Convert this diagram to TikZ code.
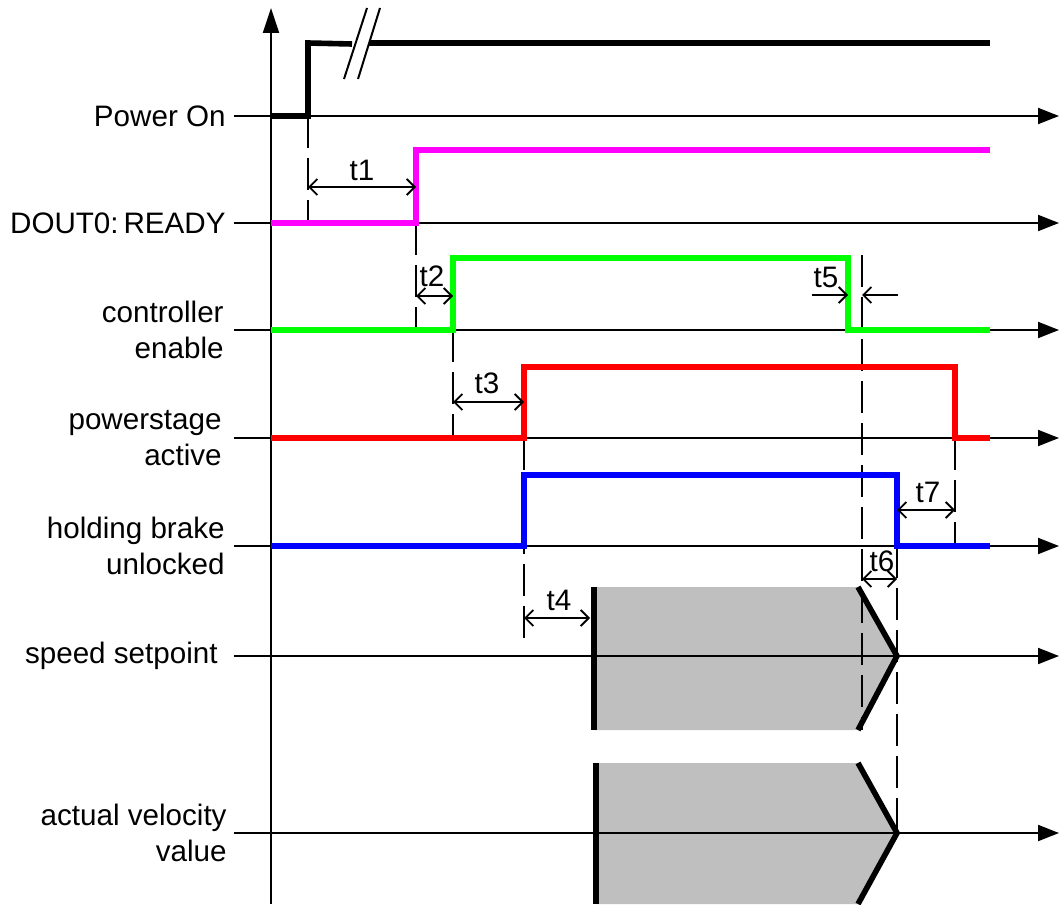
\documentclass[tikz,border=0pt]{standalone}
\usepackage{fontspec}
\setmainfont{Liberation Sans}
\usetikzlibrary{arrows.meta}
\definecolor{sigmagenta}{RGB}{255,0,255}
\definecolor{siggreen}{RGB}{0,255,0}
\definecolor{sigred}{RGB}{255,0,0}
\definecolor{sigblue}{RGB}{0,0,255}

\begin{document}
\begin{tikzpicture}[
    x=0.5pt, y=-0.5pt,
    axis/.style={line width=1pt, -{Triangle[length=10.5pt,width=8pt]}},
    sig/.style={line width=2.8pt, line join=miter},
    guide/.style={line width=1pt, dash pattern=on 16pt off 5pt},
    dim/.style={line width=0.9pt, {Straight Barb[length=4pt,width=8pt]}-{Straight Barb[length=4pt,width=8pt]}},
    dimin/.style={line width=0.9pt, -{Straight Barb[length=4pt,width=8pt]}},
    lbl/.style={anchor=east, align=right, inner sep=0pt, font=\fontsize{14.8}{18}\selectfont},
    tlbl/.style={font=\fontsize{14.8}{18}\selectfont, inner sep=0pt}
]
    \useasboundingbox (0,0) rectangle (1059,904);

    % Grey areas of setpoint and actual value
    \fill[black!25] (594,587) -- (858,587) -- (897,656) -- (858,730) -- (594,730) -- cycle;
    \fill[black!25] (596,763) -- (858,763) -- (897,833) -- (858,904) -- (596,904) -- cycle;

    % Time axis (vertical) and signal axes
    \draw[line width=1pt, -{Triangle[length=12.5pt,width=8pt]}] (271,904) -- (271,8);
    \draw[axis] (234,116) -- (1059,116);
    \draw[axis] (234,223) -- (1059,223);
    \draw[axis] (234,330) -- (1059,330);
    \draw[axis] (234,438) -- (1059,438);
    \draw[axis] (234,546) -- (1059,546);
    \draw[axis] (234,656) -- (1059,656);
    \draw[axis] (234,833) -- (1059,833);

    % Signal names
    \node[lbl] (pwr)  at (226,116) {Power On};
    \node[lbl] (rdy)  at (226,223) {DOUT0:\,READY};
    \node[lbl] (ctrl) at (224,330) {controller\\enable};
    \node[lbl] (pst)  at (222,438) {powerstage\\active};
    \node[lbl] (brk)  at (225,546) {holding brake\\unlocked};
    \node[lbl] (spd)  at (218,656) {speed setpoint};
    \node[lbl] (vel)  at (227,833) {actual velocity\\value};

    % Dashed guide lines
    \draw[guide] (308,116) -- (308,223);
    \draw[guide] (416,223) -- (416,330);
    \draw[guide] (453,330) -- (453,438);
    \draw[guide] (524,438) -- (524,646);
    \draw[guide] (862,255) -- (862,730);
    \draw[guide] (897,546) -- (897,833);
    \draw[guide] (955,438) -- (955,546);

    % Power On (with break mark)
    \draw[sig] (271,116) -- (308,116) -- (308,43) -- (352,44);
    \draw[sig] (369,43) -- (990,43);
    \draw[line width=1pt] (344,79) -- (367,8);
    \draw[line width=1pt] (358,79) -- (380,8);

    % DOUT0: READY
    \draw[sig, sigmagenta] (271,223) -- (416,223) -- (416,150) -- (990,150);

    % controller enable
    \draw[sig, siggreen] (271,330) -- (453,330) -- (453,258) -- (848,258) -- (848,330) -- (990,330);

    % powerstage active
    \draw[sig, sigred] (271,438) -- (524,438) -- (524,367) -- (955,367) -- (955,438) -- (990,438);

    % holding brake unlocked
    \draw[sig, sigblue] (271,546) -- (524,546) -- (524,475) -- (897,475) -- (897,546) -- (990,546);

    % Setpoint and actual velocity edges
    \draw[sig] (594,587) -- (594,730);
    \draw[sig] (858,587) -- (897,656) -- (858,730);
    \draw[sig] (596,763) -- (596,904);
    \draw[sig] (858,763) -- (897,833) -- (858,904);

    % Time intervals
    \draw[dim] (308,187) -- (416,187);
    \node[tlbl] (t1) at (362,170) {t1};
    \draw[dim] (416,296) -- (453,296);
    \node[tlbl] (t2) at (432,276) {t2};
    \draw[dim] (453,402) -- (524,402);
    \node[tlbl] (t3) at (487,383) {t3};
    \draw[dim] (524,618) -- (590,618);
    \node[tlbl] (t4) at (559,600) {t4};
    \draw[dimin] (812,295) -- (848,295);
    \draw[dimin] (898,295) -- (862,295);
    \node[tlbl] (t5) at (826,277) {t5};
    \draw[dim] (862,579) -- (897,579);
    \node[tlbl] (t6) at (882,561) {t6};
    \draw[dim] (897,510) -- (955,510);
    \node[tlbl] (t7) at (928,492) {t7};

\end{tikzpicture}
\end{document}
